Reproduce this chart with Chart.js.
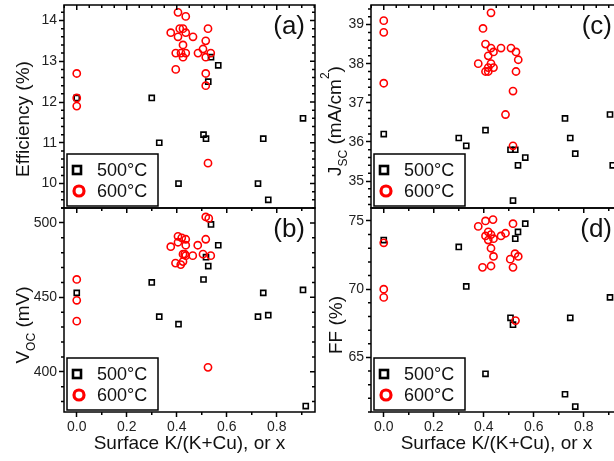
<!DOCTYPE html>
<html>
<head>
<meta charset="utf-8">
<script src="https://cdn.jsdelivr.net/npm/chart.js@4.4.1/dist/chart.umd.min.js"></script>
<style>
html, body { margin: 0; padding: 0; background: #fff; }
body { width: 614px; height: 461px; overflow: hidden; position: relative; }
canvas { position: absolute; }
#effChart { left: 0; top: 0; }
#jscChart { left: 300px; top: 0; }
#vocChart { left: 0; top: 200px; }
#ffChart { left: 300px; top: 200px; }
</style>
</head>
<body>
<canvas id="vocChart" width="330" height="261"></canvas>
<canvas id="ffChart" width="330" height="261"></canvas>
<canvas id="effChart" width="330" height="215"></canvas>
<canvas id="jscChart" width="330" height="215"></canvas>
<script>
const FONT = "'Liberation Sans', Arial, sans-serif"
const seriesLabels = ['500°C', '600°C']
const xTitle = 'Surface K/(K+Cu), or x'

// 500°C samples, same x for all four panels (null = off the plotted range)
const x500 = [0, 0.30, 0.33, 0.407, 0.507, 0.517, 0.526, 0.537, 0.566, 0.725, 0.746, 0.766, 0.905, 0.916]
const eff500 = [12.1, 12.1, 11.0, 10.0, 11.2, 11.1, 12.5, 13.1, 12.9, 10.0, 11.1, 9.6, 11.6, null]
const voc500 = [453, 460, 437, 432, 462, 477, 471, 499, 485, 437, 453, 438, 455, 377]
const jsc500 = [36.2, 36.1, 35.9, 36.3, 35.8, 34.5, 35.8, 35.4, 35.6, 36.6, 36.1, 35.7, 36.7, 35.4]
const ff500 = [73.6, 73.1, 70.2, 63.8, 67.9, 67.4, 73.7, 74.2, 74.8, 62.3, 67.9, 61.4, 69.4, null]

// 600°C samples, read per panel
const effX600 = [0, 0, 0, 0.405, 0.436, 0.376, 0.412, 0.425, 0.436, 0.405, 0.465, 0.525, 0.516, 0.425, 0.505, 0.396, 0.417, 0.436, 0.485, 0.536, 0.425, 0.516, 0.396, 0.516, 0.516, 0.525]
const effY600 = [12.7, 12.1, 11.9, 14.2, 14.1, 13.7, 13.8, 13.8, 13.7, 13.6, 13.6, 13.8, 13.5, 13.4, 13.3, 13.2, 13.2, 13.2, 13.2, 13.2, 13.1, 13.1, 12.8, 12.7, 12.4, 10.5]
const vocX600 = [0, 0, 0, 0.516, 0.528, 0.376, 0.405, 0.42, 0.436, 0.405, 0.436, 0.484, 0.516, 0.395, 0.416, 0.425, 0.425, 0.432, 0.436, 0.464, 0.505, 0.536, 0.525]
const vocY600 = [462, 448, 434, 504, 503, 484, 491, 490, 489, 487, 485, 485, 489, 473, 472, 474, 479, 479, 478, 478, 479, 478, 403]
const jscX600 = [0, 0, 0, 0.429, 0.397, 0.407, 0.429, 0.439, 0.418, 0.469, 0.509, 0.529, 0.538, 0.378, 0.429, 0.418, 0.407, 0.418, 0.439, 0.529, 0.517, 0.487, 0.517]
const jscY600 = [39.1, 38.8, 37.5, 39.3, 38.9, 38.5, 38.4, 38.3, 38.2, 38.4, 38.4, 38.3, 38.1, 38.0, 38.0, 37.9, 37.8, 37.8, 37.9, 37.8, 37.3, 36.7, 35.9]
const ffX600 = [0, 0, 0, 0.527, 0.378, 0.407, 0.437, 0.517, 0.418, 0.407, 0.429, 0.418, 0.439, 0.469, 0.487, 0.429, 0.439, 0.525, 0.506, 0.538, 0.395, 0.429, 0.517]
const ffY600 = [73.4, 70.0, 69.4, 67.7, 74.6, 75.0, 75.1, 74.8, 74.2, 73.9, 74.0, 73.6, 73.7, 73.9, 74.1, 73.0, 72.4, 72.6, 72.2, 72.4, 71.6, 71.7, 71.6]

const points = (xs, ys) => xs.map((x, i) => ({ x, y: ys[i] })).filter(p => p.y !== null)
const isMultiple = (v, step) => Math.abs(v / step - Math.round(v / step)) < 1e-6

// rotated y title with sub/superscripts: parts are [text, 'n' | 'sub' | 'sup']
function drawYTitle(ctx, parts, cx, cy) {
	ctx.save()
	ctx.translate(cx, cy)
	ctx.rotate(-Math.PI / 2)
	ctx.fillStyle = '#111'
	ctx.textBaseline = 'alphabetic'
	const fontFor = k => (k === 'n' ? 19 : 12) + 'px ' + FONT
	let total = 0
	const sized = parts.map(([t, k]) => {
		ctx.font = fontFor(k)
		const w = ctx.measureText(t).width
		total += w
		return [t, k, w]
	})
	let x = -total / 2
	for (const [t, k, w] of sized) {
		ctx.font = fontFor(k)
		const dy = k === 'sub' ? 6 : k === 'sup' ? -12 : 0
		ctx.fillText(t, x, 7 + dy)
		x += w
	}
	ctx.restore()
}

const panelDecor = {
	id: 'panelDecor',
	afterDatasetsDraw(chart, args, o) {
		const { ctx, chartArea: a } = chart
		const xs = chart.scales.x
		const ys = chart.scales.y
		ctx.save()
		ctx.strokeStyle = '#000'
		ctx.lineWidth = 1.5
		ctx.strokeRect(a.left, a.top, a.right - a.left, a.bottom - a.top)

		ctx.beginPath()
		// y ticks: minor ones outside on the left, all inside on the right
		for (let i = Math.ceil(ys.min / o.yMinor); i * o.yMinor <= ys.max; i++) {
			const v = i * o.yMinor
			const py = ys.getPixelForValue(v)
			const major = isMultiple(v, o.yMajor)
			const len = major ? 5 : 3
			if (!major) {
				ctx.moveTo(a.left, py)
				ctx.lineTo(a.left - len, py)
			}
			ctx.moveTo(a.right, py)
			ctx.lineTo(a.right - len, py)
		}
		// x ticks on top, pointing in
		for (let i = Math.ceil(xs.min / o.topMinor); i * o.topMinor <= xs.max; i++) {
			const v = i * o.topMinor
			const px = xs.getPixelForValue(v)
			const len = isMultiple(v, 0.2) ? 5 : 3
			ctx.moveTo(px, a.top)
			ctx.lineTo(px, a.top + len)
		}
		// minor x ticks at the bottom, pointing out
		if (o.bottomTicks) {
			for (let i = Math.ceil(xs.min / 0.1); i * 0.1 <= xs.max; i++) {
				const v = i * 0.1
				if (isMultiple(v, 0.2)) continue
				const px = xs.getPixelForValue(v)
				ctx.moveTo(px, a.bottom)
				ctx.lineTo(px, a.bottom + 3)
			}
		}
		ctx.stroke()

		// panel letter
		ctx.fillStyle = '#111'
		ctx.font = '26px ' + FONT
		ctx.textAlign = 'right'
		ctx.textBaseline = 'middle'
		ctx.fillText(o.letter, a.right - 10, a.top + 22)

		// legend box
		const lx = a.left + 3
		const ly = a.bottom - 54
		ctx.lineWidth = 1.5
		ctx.strokeRect(lx, ly, 91, 52)
		ctx.lineWidth = 2.6
		ctx.strokeRect(a.left + 9, ly + 12, 8, 8)
		ctx.strokeStyle = '#f00'
		ctx.lineWidth = 3.2
		ctx.beginPath()
		ctx.arc(a.left + 15, ly + 37, 5, 0, Math.PI * 2)
		ctx.stroke()
		ctx.font = '18px ' + FONT
		ctx.textAlign = 'left'
		ctx.fillText(chart.data.datasets[0].label, a.left + 33, ly + 17)
		ctx.fillText(chart.data.datasets[1].label, a.left + 33, ly + 38)

		drawYTitle(ctx, o.yTitle, o.titleX, o.titleY)
		ctx.restore()
	},
}

function makePanel(id, cfg) {
	const yWidth = cfg.yWidth
	return new Chart(document.getElementById(id), {
		type: 'scatter',
		data: {
			datasets: [
				{
					label: seriesLabels[0],
					data: points(x500, cfg.black),
					pointStyle: 'rect',
					pointRadius: 3.6,
					pointBorderWidth: 1.6,
					pointBorderColor: '#000',
					pointBackgroundColor: 'rgba(0,0,0,0)',
					order: 1,
				},
				{
					label: seriesLabels[1],
					data: points(cfg.redX, cfg.redY),
					pointStyle: 'circle',
					pointRadius: 3.6,
					pointBorderWidth: 1.6,
					pointBorderColor: '#f00',
					pointBackgroundColor: 'rgba(0,0,0,0)',
					order: 0,
				},
			],
		},
		options: {
			responsive: false,
			animation: false,
			events: [],
			layout: { autoPadding: false, padding: cfg.padding },
			plugins: {
				legend: { display: false },
				tooltip: { enabled: false },
				panelDecor: cfg.decor,
			},
			scales: {
				x: {
					display: cfg.showX,
					min: -0.051,
					max: 0.953,
					afterFit: s => {
						s.height = cfg.showX ? 49 : 0
						s.paddingLeft = 0
						s.paddingRight = 0
					},
					border: { display: false },
					grid: { drawOnChartArea: false, drawTicks: true, tickLength: 5, tickWidth: 1.5, tickColor: '#000' },
					ticks: {
						stepSize: 0.2,
						includeBounds: false,
						maxRotation: 0,
						padding: 2,
						color: '#222',
						font: { family: FONT, size: 14 },
						callback: v => v.toFixed(1),
					},
					title: {
						display: true,
						text: xTitle,
						color: '#111',
						font: { family: FONT, size: 19 },
						padding: { top: 0, bottom: 6 },
					},
				},
				y: {
					min: cfg.yMin,
					max: cfg.yMax,
					afterFit: s => {
						s.width = yWidth
						s.paddingTop = 0
						s.paddingBottom = 0
					},
					border: { display: false },
					grid: { drawOnChartArea: false, drawTicks: true, tickLength: 5, tickWidth: 1.5, tickColor: '#000' },
					ticks: {
						stepSize: cfg.yStep,
						includeBounds: false,
						padding: 2,
						color: '#222',
						font: { family: FONT, size: 14 },
					},
				},
			},
		},
		plugins: [panelDecor],
	})
}

window.addEventListener('DOMContentLoaded', () => {
	// (a) Efficiency
	makePanel('effChart', {
		black: eff500, redX: effX600, redY: effY600,
		yMin: 9.4, yMax: 14.38, yStep: 1, yWidth: 64, showX: false,
		padding: { left: 0, top: 5, right: 15, bottom: 7 },
		decor: {
			letter: '(a)', yMajor: 1, yMinor: 0.2, topMinor: 0.05, bottomTicks: false,
			yTitle: [['Efficiency (%)', 'n']], titleX: 22, titleY: 119,
		},
	})

	// (b) Voc
	makePanel('vocChart', {
		black: voc500, redX: vocX600, redY: vocY600,
		yMin: 373, yMax: 510, yStep: 50, yWidth: 64, showX: true,
		padding: { left: 0, top: 8, right: 15, bottom: 0 },
		decor: {
			letter: '(b)', yMajor: 50, yMinor: 10, topMinor: 0.1, bottomTicks: true,
			yTitle: [['V', 'n'], ['OC', 'sub'], [' (mV)', 'n']], titleX: 22, titleY: 125,
		},
	})

	// (c) Jsc
	makePanel('jscChart', {
		black: jsc500, redX: jscX600, redY: jscY600,
		yMin: 34.31, yMax: 39.5, yStep: 1, yWidth: 71, showX: false,
		padding: { left: 0, top: 5, right: 8, bottom: 7 },
		decor: {
			letter: '(c)', yMajor: 1, yMinor: 0.2, topMinor: 0.05, bottomTicks: false,
			yTitle: [['J', 'n'], ['SC', 'sub'], [' (mA/cm', 'n'], ['2', 'sup'], [')', 'n']], titleX: 34, titleY: 121,
		},
	})

	// (d) FF
	makePanel('ffChart', {
		black: ff500, redX: ffX600, redY: ffY600,
		yMin: 61, yMax: 75.95, yStep: 5, yWidth: 71, showX: true,
		padding: { left: 0, top: 8, right: 8, bottom: 0 },
		decor: {
			letter: '(d)', yMajor: 5, yMinor: 1, topMinor: 0.1, bottomTicks: true,
			yTitle: [['FF (%)', 'n']], titleX: 35, titleY: 125,
		},
	})
})
</script>
</body>
</html>
